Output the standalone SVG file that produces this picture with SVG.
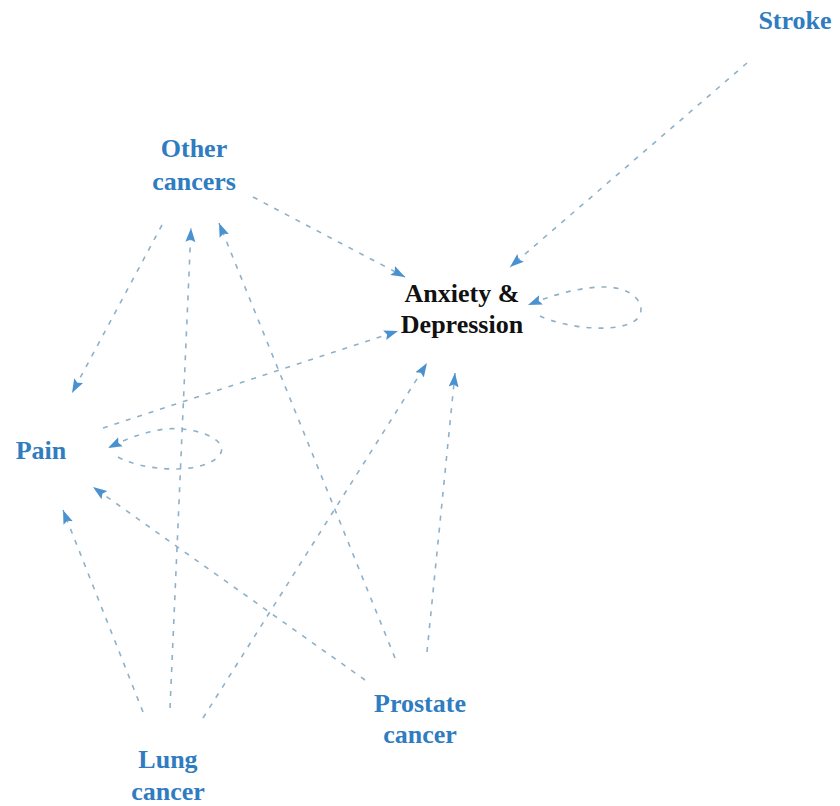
<svg xmlns="http://www.w3.org/2000/svg" width="840" height="806" viewBox="0 0 840 806">
  <style>
    .lbl { font-family: "Liberation Serif", "Times New Roman", serif; font-weight: bold; font-size: 26px; text-anchor: middle; fill: #2f7cc0; }
    .lbl.dark { fill: #111111; }
    .edge { fill: none; stroke: #8eb1c9; stroke-width: 1.6; stroke-dasharray: 5 7; marker-end: url(#arrow); }
  </style>
  <defs>
    <marker id="arrow" markerUnits="userSpaceOnUse" markerWidth="16" markerHeight="12" refX="14" refY="6" orient="auto">
      <path d="M0,1 L14,6 L0,11 L2.5,6 Z" fill="#4a92cf"/>
    </marker>
  </defs>
  <rect width="840" height="806" fill="#ffffff"/>

  <g id="connectors">
    <path class="edge" d="M747,63 L510,267"/>
    <path class="edge" d="M253,197 L405,277"/>
    <path class="edge" d="M162,225 L72,393"/>
    <path class="edge" d="M103,428 L398,331"/>
    <path class="edge" d="M170,708 L191,228"/>
    <path class="edge" d="M395,658 L219,223"/>
    <path class="edge" d="M143,712 L63,510"/>
    <path class="edge" d="M365,680 L93,487"/>
    <path class="edge" d="M203,718 L427,363"/>
    <path class="edge" d="M427,652 L455,373"/>
    <path class="edge" d="M118,457 C140,470 200,476 219,456 C232,440 195,426 165,429 C142,432 122,441 108,448"/>
    <path class="edge" d="M540,316 C565,328 622,335 638,318 C648,304 632,287 605,287 C576,287 548,297 528,305"/>
  </g>

  <g id="stroke">
    <text class="lbl" x="795" y="29">Stroke</text>
  </g>
  <g id="other-cancers">
    <text class="lbl" x="194" y="157">Other</text>
    <text class="lbl" x="194" y="190">cancers</text>
  </g>
  <g id="anxiety-depression">
    <text class="lbl dark" x="462" y="302">Anxiety &amp;</text>
    <text class="lbl dark" x="462" y="333">Depression</text>
  </g>
  <g id="pain">
    <text class="lbl" x="41" y="459">Pain</text>
  </g>
  <g id="prostate-cancer">
    <text class="lbl" x="420" y="712">Prostate</text>
    <text class="lbl" x="420" y="743">cancer</text>
  </g>
  <g id="lung-cancer">
    <text class="lbl" x="168" y="768">Lung</text>
    <text class="lbl" x="168" y="800">cancer</text>
  </g>
</svg>
